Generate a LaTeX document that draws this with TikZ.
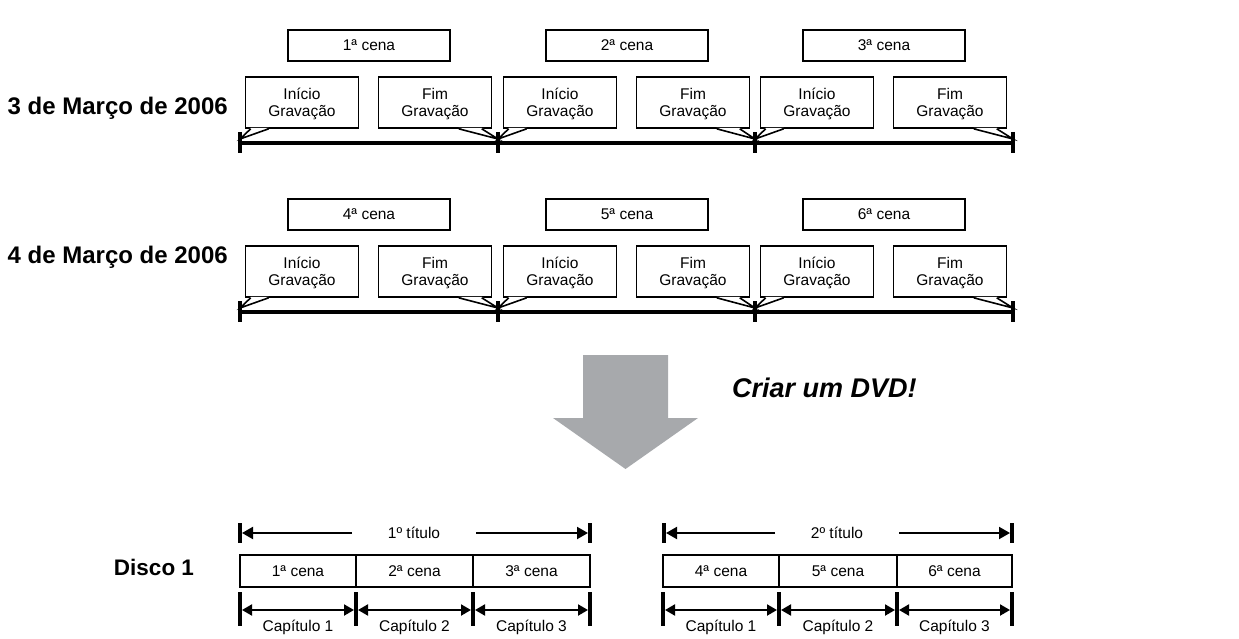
\documentclass[tikz,border=0pt]{standalone}
\usepackage{fontspec}
\setmainfont{Liberation Sans}
\usetikzlibrary{arrows.meta,calc}
\definecolor{arrowgray}{HTML}{A7A9AC}
\begin{document}
\begin{tikzpicture}[x=1pt,y=-1pt,
  txt/.style={font=\fontsize{15.5}{17}\selectfont},
  box/.style={draw, line width=1.6pt, fill=white, inner sep=0pt, txt, align=center},
  scenebox/.style={box, minimum width=162pt, minimum height=31pt},
  callout/.style={box, minimum width=113pt, minimum height=51pt},
  cell/.style={box, minimum height=32pt},
  bigline/.style={line width=4pt},
  tickline/.style={line width=3.5pt},
  ptr/.style={line width=1.6pt, line join=miter},
  dbl/.style={line width=2pt, {Triangle[length=10pt,width=11pt]}-{Triangle[length=10pt,width=11pt]}},
  sgl/.style={line width=2pt, -{Triangle[length=11pt,width=12pt]}},
  datelabel/.style={font=\bfseries\fontsize{24}{26}\selectfont, inner sep=0pt, anchor=base east},
]
\useasboundingbox (0,0) rectangle (1239,639);

% ---------- two recording days ----------
\foreach \r/\yo/\db/\dt in {1/0/115/3 de Março de 2006, 2/169/263/4 de Março de 2006}{
  \node[datelabel] (date\r) at (228,\db) {\dt};
  % timeline
  \coordinate (t\r-0) at (240,143+\yo);
  \coordinate (t\r-1) at (498,143+\yo);
  \coordinate (t\r-2) at (755,143+\yo);
  \coordinate (t\r-3) at (1013,143+\yo);
  \draw[bigline] (t\r-0) -- (t\r-3);
  \foreach \k in {0,1,2,3}{
    \draw[tickline] ([yshift=11pt]t\r-\k) -- ([yshift=-10pt]t\r-\k);
  }
  \foreach \j/\s in {0/240,1/498,2/755}{
    \pgfmathtruncatemacro{\n}{3*(\r-1)+\j+1}
    \pgfmathtruncatemacro{\nx}{\j+1}
    \node[scenebox] (scene\r-\j) at (\s+129,45.5+\yo) {\n ª cena};
    % Inicio callout
    \node[callout] (ini\r-\j) at (\s+62,102.5+\yo) {Início\vphantom{Í}\\Gravação};
    \coordinate (ia\r-\j) at ([xshift=6pt]ini\r-\j.south west);
    \coordinate (ib\r-\j) at ([xshift=24pt]ini\r-\j.south west);
    \fill[white] ([yshift=1pt]ia\r-\j) -- ([yshift=4pt]t\r-\j) -- ([yshift=1pt]ib\r-\j) -- cycle;
    \draw[ptr] (ia\r-\j) -- ([yshift=4pt]t\r-\j) -- (ib\r-\j);
    % Fim callout
    \node[callout] (fim\r-\j) at (\s+195,102.5+\yo) {Fim\vphantom{Í}\\Gravação};
    \coordinate (fa\r-\j) at ([xshift=81pt]fim\r-\j.south west);
    \coordinate (fb\r-\j) at ([xshift=104pt]fim\r-\j.south west);
    \fill[white] ([yshift=1pt]fa\r-\j) -- ([yshift=4pt]t\r-\nx) -- ([yshift=1pt]fb\r-\j) -- cycle;
    \draw[ptr] (fa\r-\j) -- ([yshift=4pt]t\r-\nx) -- (fb\r-\j);
  }
}

% ---------- big gray arrow ----------
\fill[arrowgray] (583,355) -- (668,355) -- (668,418) -- (698,418) -- (625.5,469)
  -- (553,418) -- (583,418) -- cycle;
\node[font=\bfseries\itshape\fontsize{27}{29}\selectfont, inner sep=0pt, anchor=base west]
  (dvd) at (732,397) {Criar um DVD!};

% ---------- disc ----------
\node[font=\bfseries\fontsize{22.5}{26}\selectfont, inner sep=0pt, anchor=base] (disc) at (154,575) {Disco 1};

% scene cells
\foreach \i/\a/\b in {1/240/356, 2/356/473, 3/473/590, 4/663/779, 5/779/897, 6/897/1012}{
  \node[cell, minimum width=\b-\a] (cell\i) at ({(\a+\b)/2},571) {\i ª cena};
}

% titles
\foreach \tn/\a/\b/\la/\rb in {1/240/590/352/476, 2/664/1012/775/899}{
  \coordinate (tl\tn) at (\a,533);
  \coordinate (tr\tn) at (\b,533);
  \coordinate (tla\tn) at (\la,533);
  \coordinate (trb\tn) at (\rb,533);
  \draw[tickline, line width=4pt] ([yshift=10pt]tl\tn) -- ([yshift=-10pt]tl\tn);
  \draw[tickline, line width=4pt] ([yshift=10pt]tr\tn) -- ([yshift=-10pt]tr\tn);
  \draw[sgl] (tla\tn) -- ([xshift=2pt]tl\tn);
  \draw[sgl] (trb\tn) -- ([xshift=-2pt]tr\tn);
  \node[txt, inner sep=0pt, anchor=base] (title\tn) at ({(\la+\rb)/2},538) {\tn º título};
}

% chapters
\foreach \d/\xa/\xb/\xc/\xd in {1/240/356/473/590, 2/663/779/897/1012}{
  \coordinate (ch\d-0) at (\xa,610);
  \coordinate (ch\d-1) at (\xb,610);
  \coordinate (ch\d-2) at (\xc,610);
  \coordinate (ch\d-3) at (\xd,610);
  \foreach \k in {0,1,2,3}{
    \draw[tickline] ([yshift=18pt]ch\d-\k) -- ([yshift=-16pt]ch\d-\k);
  }
  \foreach \k/\kn in {0/1,1/2,2/3}{
    \draw[dbl] ([xshift=2pt]ch\d-\k) -- ([xshift=-2pt]ch\d-\kn);
    \node[txt, inner sep=0pt, anchor=base] (cap\d-\kn) at ($(ch\d-\k)!0.5!(ch\d-\kn)+(0,21)$) {Capítulo \kn};
  }
}
\end{tikzpicture}
\end{document}
